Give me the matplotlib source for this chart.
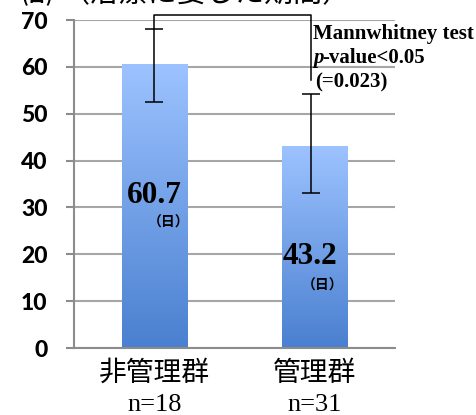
import numpy as np
import matplotlib
matplotlib.use("Agg")
import matplotlib.pyplot as plt
from matplotlib.patches import Rectangle
from matplotlib.colors import LinearSegmentedColormap

categories = ["非管理群", "管理群"]
n_labels = ["n=18", "n=31"]
means = [60.7, 43.2]
err_low = [52.5, 33.0]
err_high = [68.0, 54.2]
value_labels = ["60.7", "43.2"]
yticks = [0, 10, 20, 30, 40, 50, 60, 70]
title = "（治療に要した期間）"
unit = "(日)"
stat_lines = ["Mannwhitney test", "-value<0.05", "(=0.023)"]

fig = plt.figure(figsize=(4.77, 4.15), dpi=100)
ax = fig.add_axes([74/477, 1-348/415, (395-74)/477, (348-20)/415])
ax.set_xlim(-0.5, 1.5)
ax.set_ylim(0, 70)

cmap = LinearSegmentedColormap.from_list("g", ["#4A80D0", "#9DC3FF"])
grad = np.linspace(0, 1, 256).reshape(-1, 1)
bw = 0.405
x = np.arange(len(categories))
for xi, m in zip(x, means):
    rect = Rectangle((xi - bw/2, 0), bw, m, facecolor="none", edgecolor="none", zorder=2)
    ax.add_patch(rect)
    im = ax.imshow(grad, cmap=cmap, extent=[xi - bw/2, xi + bw/2, 0, m],
                   origin="lower", aspect="auto", zorder=2)
    im.set_clip_path(rect)
ax.set_xlim(-0.5, 1.5)
ax.set_ylim(0, 70)

# error bars
err_x = [x[0], x[1] - 0.024]
for xe, lo, hi, m in zip(err_x, err_low, err_high, means):
    ax.errorbar([xe], [m], yerr=[[m - lo], [hi - m]], fmt="none", ecolor="black",
                elinewidth=1.1, capsize=6.5, capthick=1.1, zorder=4)

# significance bracket
ax.plot([err_x[0], err_x[0], err_x[1], err_x[1]], [68.0, 71.1, 71.1, 57.2],
        color="black", lw=1.1, clip_on=False, zorder=4)

# grid
ax.set_yticks(yticks)
ax.yaxis.grid(True, color="#A6A6A6", lw=1.5, zorder=1)
ax.set_axisbelow(True)
for s in ["top", "right"]:
    ax.spines[s].set_visible(False)
for s in ["left", "bottom"]:
    ax.spines[s].set_color("#8C8C8C")
    ax.spines[s].set_linewidth(1.5)
ax.tick_params(axis="y", length=6, width=1.5, color="#8C8C8C", pad=13)
ax.tick_params(axis="x", length=0)
for lab in ax.get_yticklabels():
    lab.set_fontfamily("Lato")
    lab.set_fontweight("black")
    lab.set_fontsize(16.5)

ax.set_xticks(x)
ax.set_xticklabels(categories, fontfamily="Noto Sans CJK JP", fontsize=20)
ax.tick_params(axis="x", pad=7)
for xi, nl in zip(x, n_labels):
    ax.text(xi, -12.2, nl, ha="center", va="center", fontfamily="Liberation Serif",
            fontsize=19, transform=ax.transData, clip_on=False)

# value labels
val_pos = [(0.0, 32.5), (1.0 - 0.03, 19.5)]
unit_pos = [(0.09, 26.8), (1.05, 13.3)]
for (vx, vy), (ux, uy), vl in zip(val_pos, unit_pos, value_labels):
    ax.text(vx, vy, vl, ha="center", va="center", fontfamily="Liberation Serif",
            fontweight="bold", fontsize=22.5, zorder=5)
    ax.text(ux, uy, "（日）", ha="center", va="center", fontfamily="Noto Sans CJK JP",
            fontweight="bold", fontsize=10, zorder=5)

# stats annotation
fs = 15
fig.text(313/477, 1-34/415, stat_lines[0], ha="left", va="center",
         fontfamily="Liberation Serif", fontweight="bold", fontsize=fs)
fig.text(313/477, 1-58/415, "p", ha="left", va="center",
         fontfamily="Liberation Serif", fontweight="bold", fontstyle="italic", fontsize=fs)
fig.text(322/477, 1-58/415, stat_lines[1], ha="left", va="center",
         fontfamily="Liberation Serif", fontweight="bold", fontsize=fs)
fig.text(315/477, 1-82/415, stat_lines[2], ha="left", va="center",
         fontfamily="Liberation Serif", fontweight="bold", fontsize=fs)

# cut-off header
fig.text(37/477, 1 + 4/415, unit, ha="center", va="center",
         fontfamily=["Noto Sans CJK JP", "DejaVu Sans"], fontweight="bold", fontsize=13)
fig.text(206/477, 1 + 6/415, title, ha="center", va="center",
         fontfamily="Noto Sans CJK JP", fontsize=21)

fig.savefig("out.png", dpi=100)
